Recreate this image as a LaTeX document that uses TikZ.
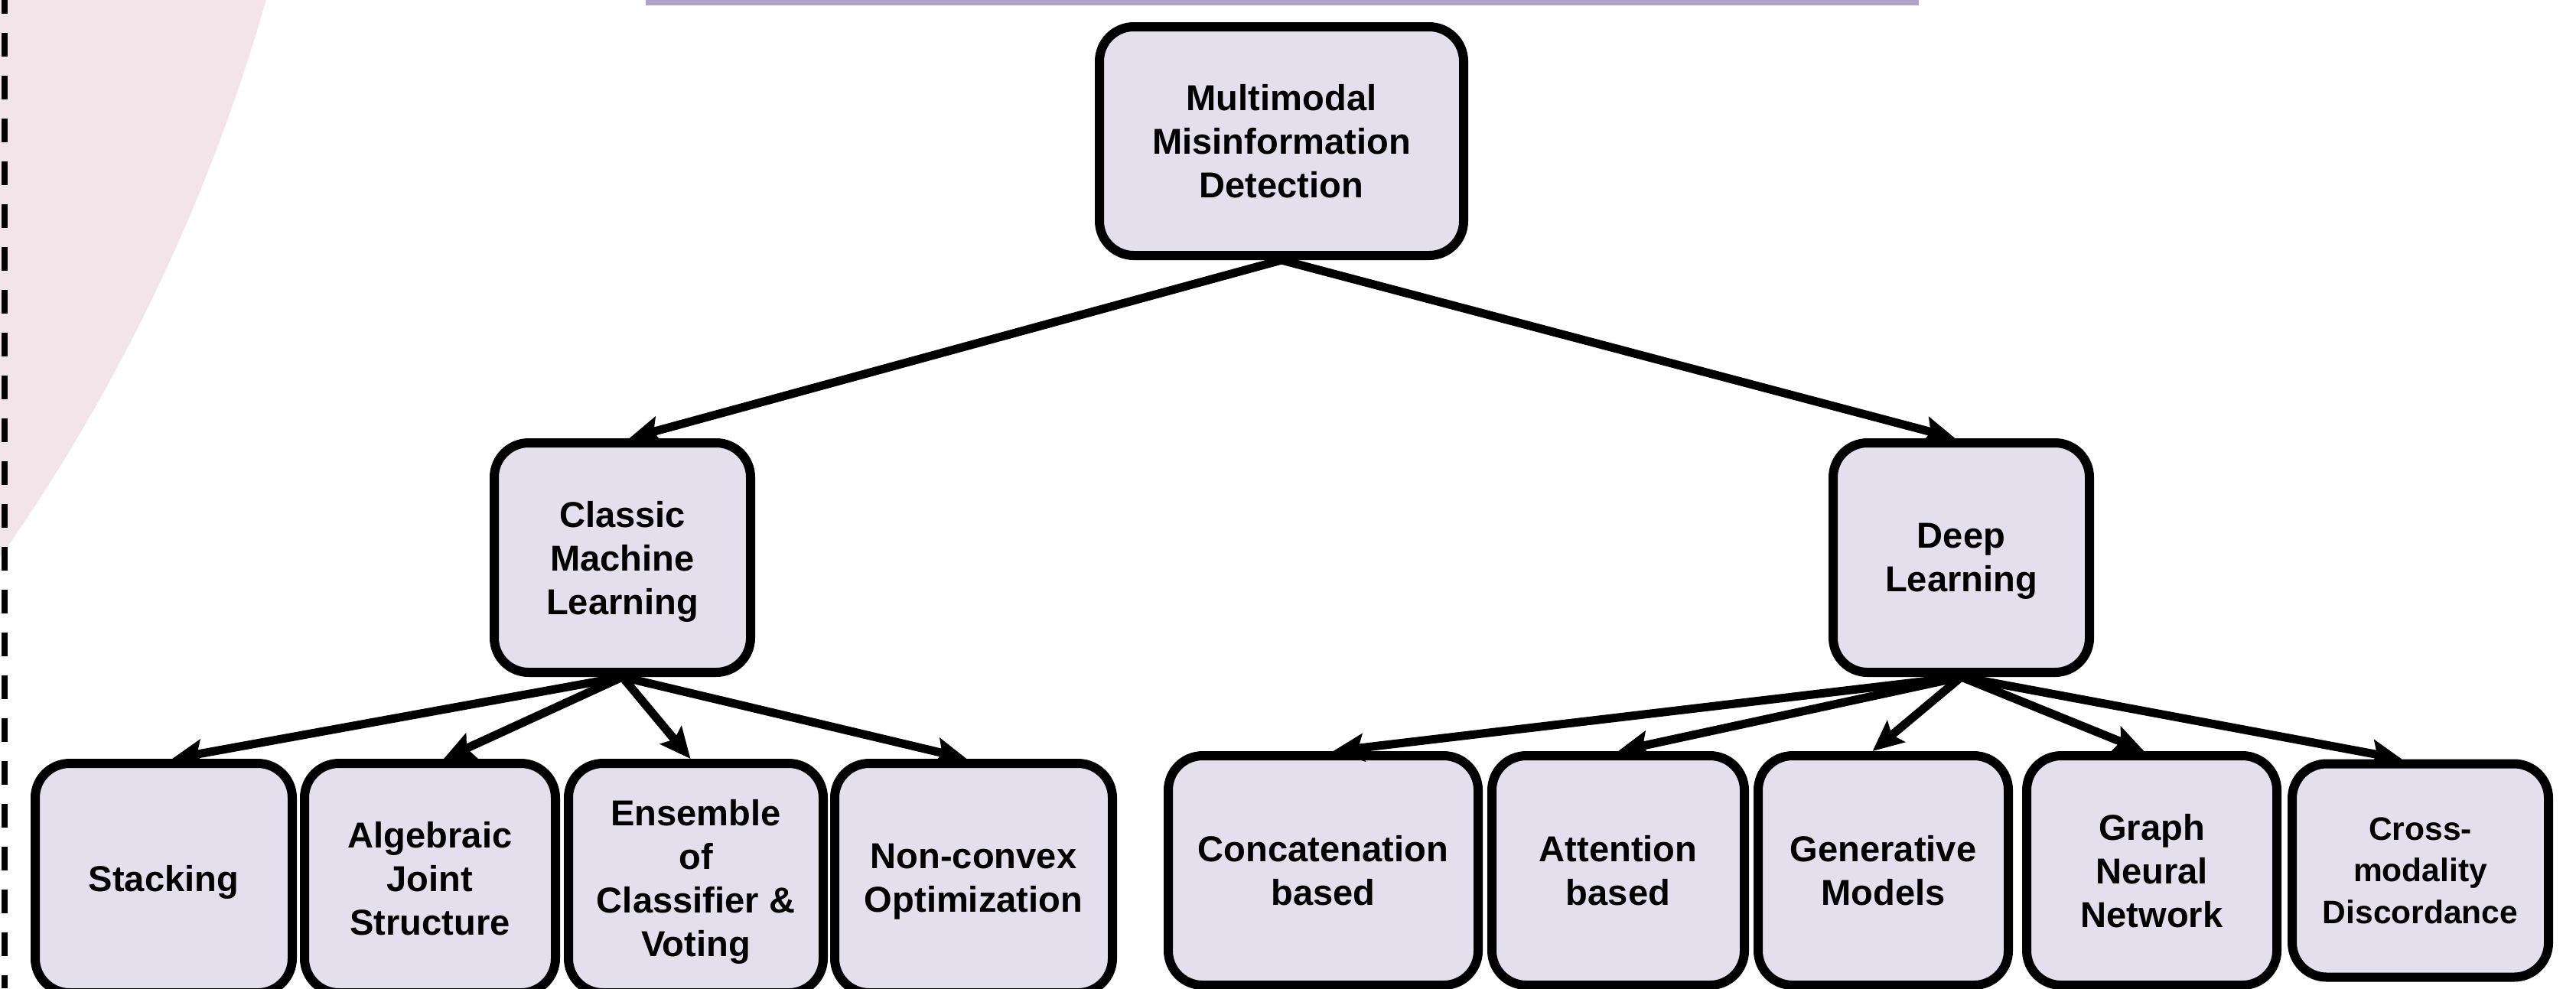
\documentclass[tikz,border=0pt]{standalone}
\usepackage{fontspec}
\setmainfont{Liberation Sans}
\usepackage{tikz}
\usetikzlibrary{positioning, arrows.meta}

\definecolor{boxfill}{RGB}{228,223,236}
\definecolor{pinkbg}{RGB}{243,228,233}
\definecolor{barpurple}{RGB}{179,163,203}

\begin{document}
\begin{tikzpicture}[
    node distance=0.05cm,
    box/.style={rectangle, draw=black, line width=0.12cm, rounded corners=0.45cm, fill=boxfill, align=center, inner sep=0pt, text depth=-1.4pt, font=\bfseries\fontsize{13.4}{16.2}\selectfont},
    topbox/.style={box, minimum width=4.76cm, minimum height=2.99cm},
    midbox/.style={box, minimum width=3.35cm, minimum height=3.00cm},
    leafbox/.style={box, minimum height=3.00cm},
    arrow/.style={-{Stealth[length=0.40cm, width=0.36cm, inset=0.07cm]}, line width=0.11cm}
  ]
    \useasboundingbox (0,0) rectangle (33.67,-12.92);

    % Background pieces
    \begin{scope}
      \clip (0,0) rectangle (33.67,-12.92);
      \fill[pinkbg] (-19.97,6.70) circle (24.38);
    \end{scope}
    \draw[line width=0.08cm, dash pattern=on 0.31cm off 0.25cm, dash phase=0.13cm] (0.06,0) -- (0.06,-12.92);
    \fill[barpurple] (8.44,0) rectangle (25.08,-0.07);

    % Nodes
    \node[topbox] (mmd) at (16.75,-1.845) {Multimodal\\Misinformation\\Detection};
    \node[midbox] (cml) at (8.135,-7.29) {Classic\\Machine\\Learning};
    \node[midbox] (dl) at (25.635,-7.29) {Deep\\Learning};

    \node[leafbox, minimum width=3.36cm] (stack) at (2.14,-11.48) {Stacking};
    \node[leafbox, minimum width=3.28cm, right=0.04cm of stack] (alg) {Algebraic\\Joint\\Structure};
    \node[leafbox, minimum width=3.33cm, right=0.05cm of alg] (ens) {Ensemble\\of\\Classifier \&\\Voting};
    \node[leafbox, minimum width=3.63cm, right=0.03cm of ens] (ncvx) {Non-convex\\Optimization};

    \node[leafbox, minimum width=4.05cm] (concat) at (17.295,-11.38) {Concatenation\\based};
    \node[leafbox, minimum width=3.30cm, right=0.06cm of concat] (attn) {Attention\\based};
    \node[leafbox, minimum width=3.27cm, right=0.06cm of attn] (gen) {Generative\\Models};
    \node[leafbox, minimum width=3.27cm, right=0.12cm of gen] (gnn) {Graph\\Neural\\Network};
    \node[leafbox, minimum width=3.35cm, minimum height=2.79cm, right=0.08cm of gnn, font=\bfseries\fontsize{12.1}{15.6}\selectfont] (cross) {Cross-\\modality\\Discordance};

    % Arrows
    \draw[arrow] (mmd.south) -- ([xshift=0.09cm]cml.north);
    \draw[arrow] (mmd.south) -- ([xshift=-0.08cm]dl.north);
    \draw[arrow] (cml.south) -- ([xshift=0.11cm]stack.north);
    \draw[arrow] (cml.south) -- ([xshift=0.18cm]alg.north);
    \draw[arrow] (cml.south) -- ([xshift=-0.07cm]ens.north);
    \draw[arrow] (cml.south) -- ([xshift=-0.09cm]ncvx.north);
    \draw[arrow] (dl.south) -- ([xshift=0.13cm]concat.north);
    \draw[arrow] (dl.south) -- (attn.north);
    \draw[arrow] (dl.south) -- ([xshift=-0.14cm]gen.north);
    \draw[arrow] (dl.south) -- ([xshift=-0.10cm]gnn.north);
    \draw[arrow] (dl.south) -- ([xshift=-0.24cm]cross.north);
\end{tikzpicture}
\end{document}
